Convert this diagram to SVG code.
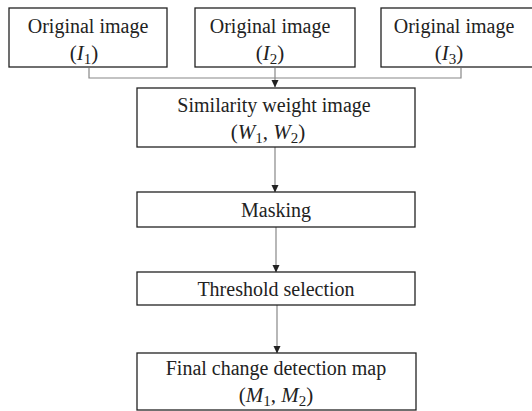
<svg xmlns="http://www.w3.org/2000/svg" width="532" height="411" viewBox="0 0 532 411">
<style>
.box{fill:#fff;stroke:#222;stroke-width:1.3}
.t{font-family:"Liberation Serif","Times New Roman",serif;font-size:20px;fill:#222;text-anchor:middle}
.mt{font-size:21px}
.m{font-style:italic}
.s{font-size:15px;font-style:normal}
.c{fill:none;stroke:#888;stroke-width:1.2}
</style>
<defs>
<marker id="ah" markerWidth="8" markerHeight="8" refX="7" refY="4" orient="auto" markerUnits="userSpaceOnUse">
<path d="M0,0.5 L7.5,4 L0,7.5 Z" fill="#222"/>
</marker>
</defs>
<g id="connectors">
<polyline class="c" points="89,68 89,78 461,78 461,68"/>
<line class="c" x1="275" y1="68" x2="275" y2="87" marker-end="url(#ah)"/>
<line class="c" x1="275" y1="147" x2="275" y2="192" marker-end="url(#ah)"/>
<line class="c" x1="276" y1="227" x2="276" y2="272" marker-end="url(#ah)"/>
<line class="c" x1="277" y1="305" x2="277" y2="353" marker-end="url(#ah)"/>
</g>
<g id="orig1">
<rect class="box" x="9" y="8" width="158" height="59"/>
<text class="t" x="88" y="33">Original image</text>
<text class="t mt" x="84" y="60">(<tspan class="m">I</tspan><tspan class="s" dy="4">1</tspan><tspan dy="-4">)</tspan></text>
</g>
<g id="orig2">
<rect class="box" x="195" y="8" width="160" height="59"/>
<text class="t" x="270" y="33">Original image</text>
<text class="t mt" x="270" y="60">(<tspan class="m">I</tspan><tspan class="s" dy="4">2</tspan><tspan dy="-4">)</tspan></text>
</g>
<g id="orig3">
<rect class="box" x="381" y="8" width="160" height="59"/>
<text class="t" x="454" y="33">Original image</text>
<text class="t mt" x="449" y="60">(<tspan class="m">I</tspan><tspan class="s" dy="4">3</tspan><tspan dy="-4">)</tspan></text>
</g>
<g id="similarity">
<rect class="box" x="137" y="88" width="278" height="59"/>
<text class="t" x="274" y="112">Similarity weight image</text>
<text class="t mt" x="268" y="139">(<tspan class="m">W</tspan><tspan class="s" dy="4">1</tspan><tspan dy="-4">, </tspan><tspan class="m">W</tspan><tspan class="s" dy="4">2</tspan><tspan dy="-4">)</tspan></text>
</g>
<g id="masking">
<rect class="box" x="137" y="192" width="278" height="35"/>
<text class="t" x="276" y="217">Masking</text>
</g>
<g id="threshold">
<rect class="box" x="137" y="272" width="278" height="33"/>
<text class="t" x="276" y="296">Threshold selection</text>
</g>
<g id="final">
<rect class="box" x="137" y="353" width="279" height="57"/>
<text class="t" x="276" y="375">Final change detection map</text>
<text class="t mt" x="276" y="402">(<tspan class="m">M</tspan><tspan class="s" dy="4">1</tspan><tspan dy="-4">, </tspan><tspan class="m">M</tspan><tspan class="s" dy="4">2</tspan><tspan dy="-4">)</tspan></text>
</g>
</svg>
